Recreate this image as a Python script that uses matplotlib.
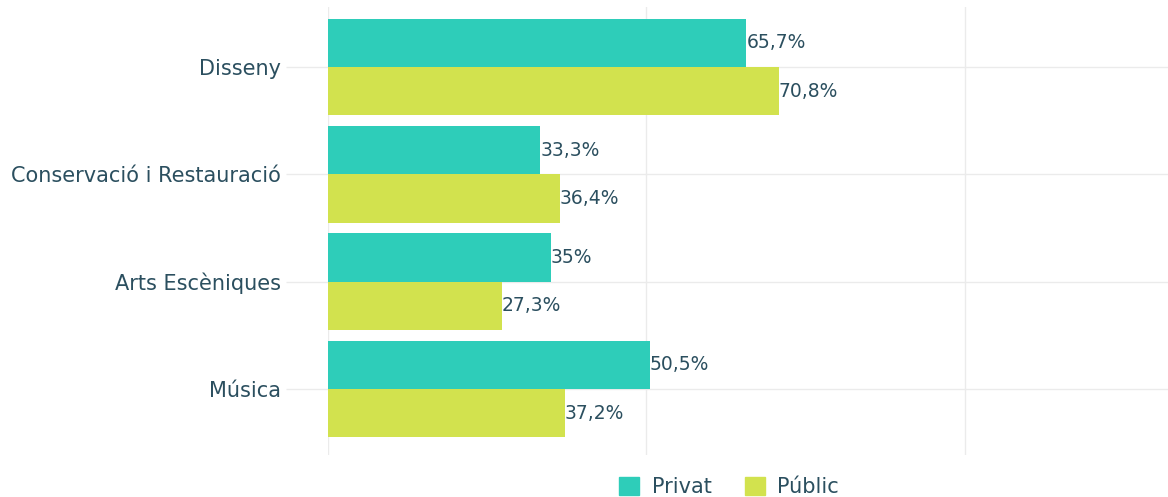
import matplotlib
matplotlib.use("Agg")
import matplotlib.pyplot as plt
from matplotlib.patches import Patch
import numpy as np

categories = ["Disseny", "Conservació i Restauració", "Arts Escèniques", "Música"]
privat = [65.7, 33.3, 35.0, 50.5]
public = [70.8, 36.4, 27.3, 37.2]
privat_labels = ["65,7%", "33,3%", "35%", "50,5%"]
public_labels = ["70,8%", "36,4%", "27,3%", "37,2%"]
series_names = ["Privat", "Públic"]

TEXT = "#2b4f5f"
C_PRIV = "#2ecdb9"
C_PUB = "#d2e24e"
GRID = "#ebebeb"

plt.rcParams['font.family'] = ['DejaVu Sans']

fig = plt.figure(figsize=(11.68, 4.97), dpi=100)
ax = fig.add_axes([328/1168, 1-455/497, 1-328/1168, (455-7)/497])

y = np.arange(len(categories))
h = 0.45
ax.barh(y - h/2, privat, height=h, color=C_PRIV, zorder=3)
ax.barh(y + h/2, public, height=h, color=C_PUB, zorder=3)

for yi, v, lab in zip(y, privat, privat_labels):
    ax.text(v, yi - h/2, lab, va='center', ha='left', color=TEXT, fontsize=13.5, zorder=4)
for yi, v, lab in zip(y, public, public_labels):
    ax.text(v, yi + h/2, lab, va='center', ha='left', color=TEXT, fontsize=13.5, zorder=4)

ax.set_xlim(0, 131.9)
ax.set_ylim(3.615, -0.56)
ax.set_yticks(y)
ax.set_yticklabels(categories, color=TEXT, fontsize=15)
ax.set_xticks([0, 50, 100])
ax.set_xticklabels([])
ax.tick_params(axis='x', length=0)
ax.tick_params(axis='y', length=30, color=GRID, width=1, pad=4)
ax.grid(True, color=GRID, linewidth=1, zorder=0)
for s in ax.spines.values():
    s.set_visible(False)

handles = [Patch(color=C_PRIV), Patch(color=C_PUB)]
fig.legend(handles, series_names, loc='center', bbox_to_anchor=(729/1168, 1-487/497),
           ncol=2, frameon=False, fontsize=15, handlelength=0.95, handleheight=0.95,
           columnspacing=1.6, handletextpad=0.6, labelcolor=TEXT)

fig.savefig("out.png", dpi=100)
